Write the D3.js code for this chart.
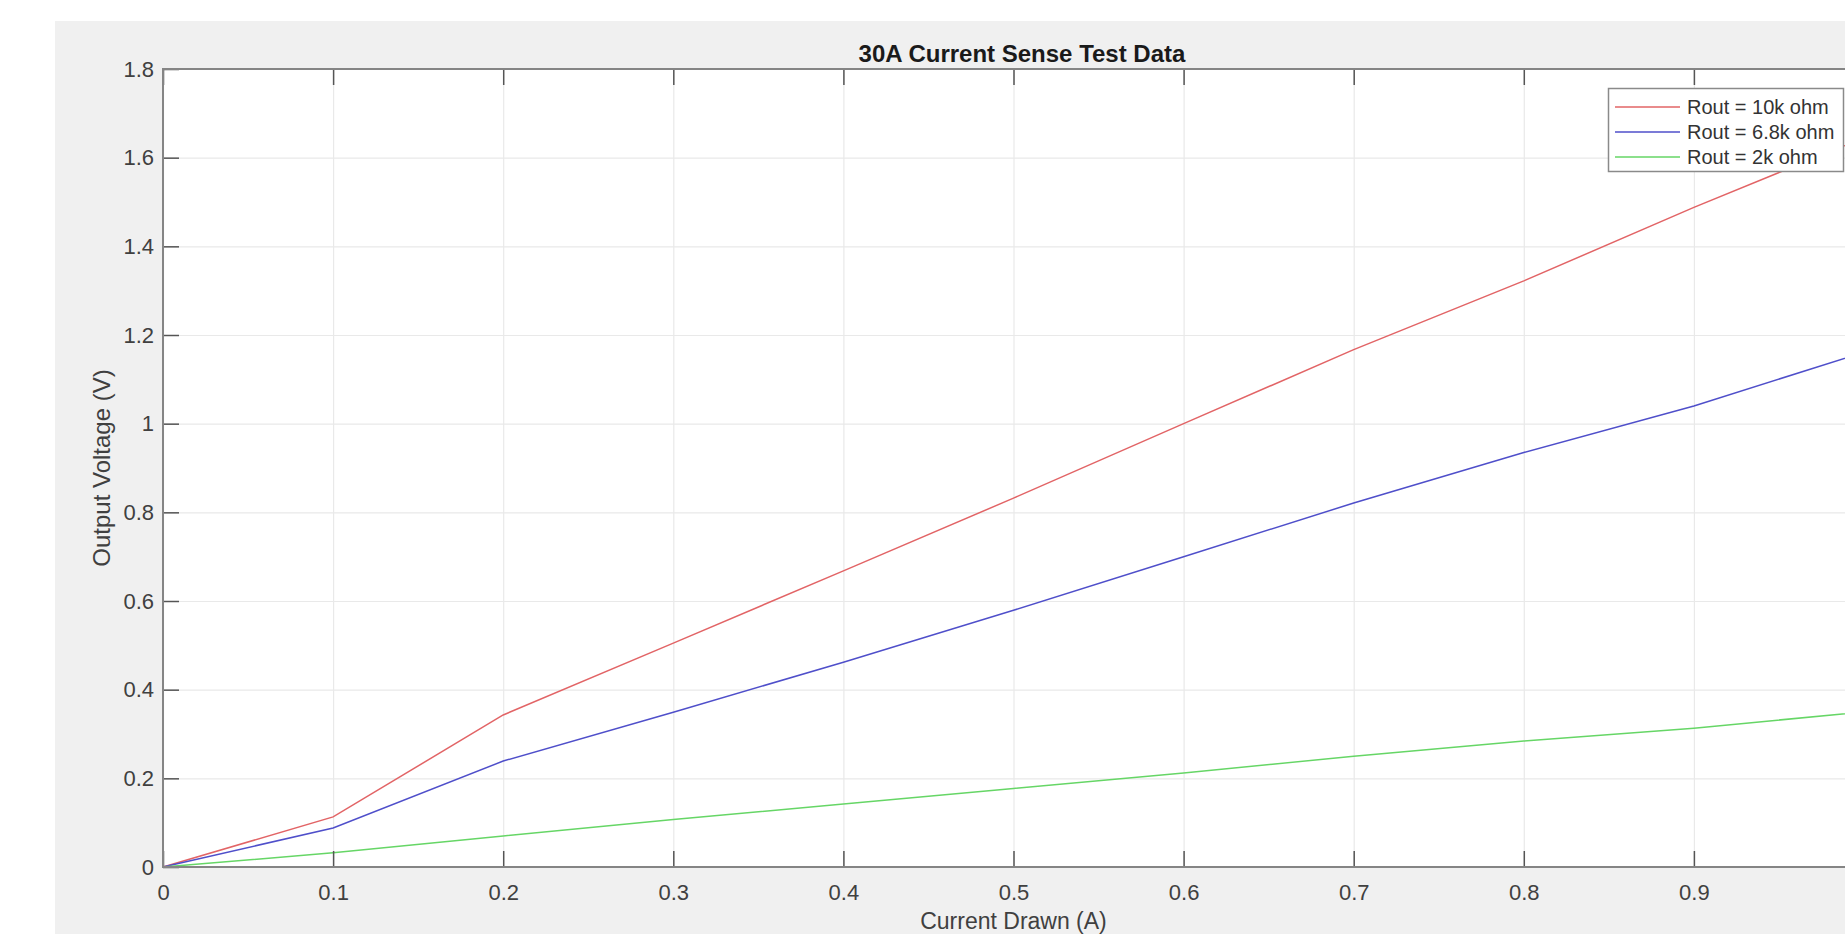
<!DOCTYPE html>
<html>
<head>
<meta charset="utf-8">
<script src="https://cdn.jsdelivr.net/npm/d3@7"></script>
<style>
  body { margin: 0; background: #ffffff; overflow: hidden; }
  svg { display: block; font-family: "Liberation Sans", Arial, sans-serif; }
</style>
</head>
<body>
<div id="plotPanel"></div>
<script>
let current = [0, 0.1, 0.2, 0.3, 0.4, 0.5, 0.6, 0.7, 0.8, 0.9, 1.0];
let rout10k = [0, 0.113, 0.343, 0.505, 0.668, 0.832, 1.0, 1.167, 1.322, 1.488, 1.645];
let rout6k8 = [0, 0.088, 0.239, 0.349, 0.462, 0.579, 0.700, 0.821, 0.935, 1.040, 1.161];
let rout2k = [0, 0.032, 0.070, 0.107, 0.142, 0.177, 0.212, 0.250, 0.284, 0.313, 0.350];

let seriesNames = ["Rout = 10k ohm", "Rout = 6.8k ohm", "Rout = 2k ohm"];
let seriesColors = ["#e26466", "#4f4fca", "#66d666"];

// the tick at 1 sits past the right edge of the window, so only 0..0.9 are labelled
let xTicks = [0, 0.1, 0.2, 0.3, 0.4, 0.5, 0.6, 0.7, 0.8, 0.9];
let yTicks = [0, 0.2, 0.4, 0.6, 0.8, 1, 1.2, 1.4, 1.6, 1.8];

let width = 1845, height = 934;
let plot = { left: 163, top: 69, right: 1864, bottom: 867 };

var xScale = d3.scaleLinear()
    .domain([0, 1])
    .range([plot.left, plot.right]);

var yScale = d3.scaleLinear()
    .domain([0, 1.8])
    .range([plot.bottom, plot.top]);

var svg = d3.select("#plotPanel").append("svg")
    .attr("width", width)
    .attr("height", height);

// figure background
svg.append("rect")
    .attr("x", 55).attr("y", 21)
    .attr("width", width - 55).attr("height", height - 21)
    .attr("fill", "#f0f0f0");

// axes background
svg.append("rect")
    .attr("x", plot.left).attr("y", plot.top)
    .attr("width", plot.right - plot.left).attr("height", plot.bottom - plot.top)
    .attr("fill", "#ffffff");

// grid
svg.append("g")
    .attr("transform", "translate(0," + plot.bottom + ")")
    .call(d3.axisBottom(xScale).tickValues(xTicks).tickSize(-(plot.bottom - plot.top)).tickFormat(""))
    .call(g => g.select(".domain").remove())
    .call(g => g.selectAll("line").attr("stroke", "#e9e9e9").attr("stroke-width", 1.2));

svg.append("g")
    .attr("transform", "translate(" + plot.left + ",0)")
    .call(d3.axisLeft(yScale).tickValues(yTicks).tickSize(-(plot.right - plot.left)).tickFormat(""))
    .call(g => g.select(".domain").remove())
    .call(g => g.selectAll("line").attr("stroke", "#e9e9e9").attr("stroke-width", 1.2));

// lines
var line = d3.line()
    .x((d, i) => xScale(current[i]))
    .y(d => yScale(d));

[rout10k, rout6k8, rout2k].forEach(function (values, k) {
  svg.append("path")
      .datum(values)
      .attr("fill", "none")
      .attr("stroke", seriesColors[k])
      .attr("stroke-width", 1.5)
      .attr("d", line);
});

// axes with inward ticks
function styleAxis(g) {
  g.select(".domain").remove();
  g.selectAll("line").attr("stroke", "#555555").attr("stroke-width", 1.5);
  g.selectAll("text").attr("fill", "#404040").attr("font-size", 22);
}

svg.append("g")
    .attr("transform", "translate(0," + plot.bottom + ")")
    .call(d3.axisBottom(xScale).tickValues(xTicks).tickSizeInner(-16).tickSizeOuter(0).tickPadding(17)
      .tickFormat(d => String(d)))
    .call(styleAxis);

svg.append("g")
    .attr("transform", "translate(0," + plot.top + ")")
    .call(d3.axisTop(xScale).tickValues(xTicks).tickSizeInner(-16).tickSizeOuter(0).tickFormat(""))
    .call(styleAxis);

svg.append("g")
    .attr("transform", "translate(" + plot.left + ",0)")
    .call(d3.axisLeft(yScale).tickValues(yTicks).tickSizeInner(-16).tickSizeOuter(0).tickPadding(9)
      .tickFormat(d => String(d)))
    .call(styleAxis);

// axes box
svg.append("rect")
    .attr("x", plot.left).attr("y", plot.top)
    .attr("width", plot.right - plot.left).attr("height", plot.bottom - plot.top)
    .attr("fill", "none")
    .attr("stroke", "#858585")
    .attr("stroke-width", 2);

// title and axis labels
svg.append("text")
    .attr("x", 1022)
    .attr("y", 62)
    .attr("text-anchor", "middle")
    .attr("font-size", 24)
    .attr("font-weight", "bold")
    .attr("fill", "#1a1a1a")
    .text("30A Current Sense Test Data");

svg.append("text")
    .attr("x", (plot.left + plot.right) / 2)
    .attr("y", 929)
    .attr("text-anchor", "middle")
    .attr("font-size", 23)
    .attr("fill", "#404040")
    .text("Current Drawn (A)");

svg.append("text")
    .attr("transform", "translate(110," + ((plot.top + plot.bottom) / 2) + ") rotate(-90)")
    .attr("text-anchor", "middle")
    .attr("font-size", 24)
    .attr("fill", "#404040")
    .text("Output Voltage (V)");

// legend
var legend = svg.append("g");
legend.append("rect")
    .attr("x", 1608.5).attr("y", 88.5)
    .attr("width", 235).attr("height", 83)
    .attr("fill", "#ffffff")
    .attr("stroke", "#8a8a8a")
    .attr("stroke-width", 1.5);

let legendRows = [107, 132, 157];
seriesNames.forEach(function (name, k) {
  legend.append("line")
      .attr("x1", 1615).attr("x2", 1680)
      .attr("y1", legendRows[k]).attr("y2", legendRows[k])
      .attr("stroke", seriesColors[k])
      .attr("stroke-width", 1.5);
  legend.append("text")
      .attr("x", 1687)
      .attr("y", legendRows[k])
      .attr("dy", "0.36em")
      .attr("font-size", 20)
      .attr("fill", "#333333")
      .text(name);
});
</script>
</body>
</html>
